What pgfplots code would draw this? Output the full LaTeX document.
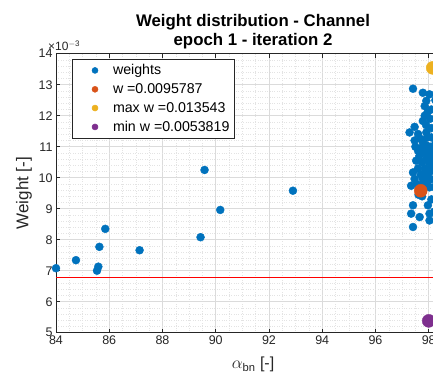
\documentclass[border=0pt]{standalone}
\usepackage{fontspec}
\setmainfont{Liberation Sans}
\usepackage{pgfplots}
\pgfplotsset{compat=1.18}
\definecolor{mblue}{HTML}{0072BD}
\definecolor{morange}{HTML}{D95319}
\definecolor{myellow}{HTML}{EDB120}
\definecolor{mpurple}{HTML}{7E2F8E}
\definecolor{mred}{RGB}{255,0,0}
\definecolor{axgray}{HTML}{262626}
\begin{document}
\begin{tikzpicture}
\begin{axis}[
  name=ax,
  at={(0pt,0pt)}, anchor=south west,
  width=394pt, height=279pt, scale only axis,
  xmin=84, xmax=98.8, ymin=5, ymax=14,
  xtick={84,86,...,98}, ytick={5,6,...,14},
  minor x tick num=3, minor y tick num=4,
  grid=both,
  major grid style={color=black!14, line width=0.5pt},
  minor grid style={color=black!11, dotted, line width=0.4pt},
  tick align=inside, major tick length=4pt, minor tick length=0pt,
  tick style={color=axgray, line width=0.5pt},
  axis line style={color=axgray, line width=0.5pt},
  xticklabel style={font=\fontsize{12.5}{14}\selectfont, color=axgray},
  yticklabel style={font=\fontsize{12.5}{14}\selectfont, color=axgray},
  /pgf/number format/assume math mode=true,
  clip marker paths=false,
  title={Weight distribution - Channel\\epoch 1 - iteration 2},
  title style={font=\bfseries\fontsize{16.8}{18.5}\selectfont, align=center, at={(0.5,1)}, anchor=south, yshift=-4.5pt},
  xlabel={$\alpha$\textsubscript{bn} [-]},
  xlabel style={font=\fontsize{16}{18}\selectfont, color=axgray, at={(rel axis cs:0.5,0)}, anchor=center, yshift=-32pt},
  legend style={at={(axis description cs:0.040,0.980)}, anchor=north west, draw=axgray, fill=white, font=\fontsize{14.2}{16}\selectfont, row sep=3.3pt, inner xsep=3pt, inner ysep=3pt, line width=0.5pt},
  legend cell align=left,
]
\addplot[color=mred, line width=1.3pt, forget plot] coordinates {(84,6.7715) (98.8,6.7715)};
\addplot[only marks, mark=*, mark size=4pt, color=mblue, mark options={fill=mblue, draw=mblue},
  legend image code/.code={\path[draw=none,fill=none] (0pt,-1pt) rectangle (36pt,1pt); \fill[mblue] (20pt,0) circle (3pt);}] coordinates {
(84.00,7.08) (84.75,7.34) (85.54,7.00) (85.59,7.13) (85.63,7.77) (85.85,8.35)
(87.14,7.66) (89.43,8.08) (89.58,10.25) (90.17,8.96) (92.90,9.58)
(97.41,12.87) (97.78,12.74) (98.03,12.69) (97.91,12.48) (97.85,12.31)
(97.85,12.00) (97.78,11.83) (97.47,11.64) (97.28,11.46) (97.60,11.41)
(97.91,11.46) (97.47,11.20) (97.78,11.13) (98.10,11.30)
(97.60,10.87) (97.97,10.92) (97.53,10.55) (97.91,10.60) (98.10,10.39)
(97.41,10.17) (97.47,9.96) (97.78,9.96) (97.97,9.90) (97.34,9.74)
(98.03,9.69) (97.41,9.11) (97.97,9.11) (97.34,8.84) (98.03,8.84)
(97.66,8.73) (98.03,8.62) (97.41,8.41)
(97.50,11.00) (97.70,10.95) (97.85,10.80) (98.00,10.75) (98.10,10.70)
(97.65,10.70) (97.90,11.05) (98.05,11.00) (97.75,10.50) (98.00,10.50)
(97.60,10.30) (97.85,10.30) (98.05,10.20) (97.70,10.10) (97.95,10.05)
(98.10,9.95) (97.55,9.80) (97.80,9.80) (97.62,9.45) (97.75,9.40)
(98.10,9.30) (98.10,11.60) (97.90,11.70) (98.05,11.90) (98.10,12.20)
(97.95,12.10) (98.10,10.85) (97.70,11.25) (97.95,11.30) (97.85,10.15)
(98.20,10.60) (98.25,11.10) (98.20,9.70) (98.25,12.50) (98.20,8.90)
};
\addlegendentry{weights}
\addplot[only marks, mark=*, mark size=6.5pt, color=morange, mark options={fill=morange, draw=morange},
  legend image code/.code={\path[draw=none,fill=none] (0pt,-1pt) rectangle (36pt,1pt); \fill[morange] (20pt,0) circle (3pt);}] coordinates {(97.70,9.5787)};
\addlegendentry{w =0.0095787}
\addplot[only marks, mark=*, mark size=6.5pt, color=myellow, mark options={fill=myellow, draw=myellow},
  legend image code/.code={\path[draw=none,fill=none] (0pt,-1pt) rectangle (36pt,1pt); \fill[myellow] (20pt,0) circle (3pt);}] coordinates {(98.15,13.543)};
\addlegendentry{max w =0.013543}
\addplot[only marks, mark=*, mark size=6.5pt, color=mpurple, mark options={fill=mpurple, draw=mpurple},
  legend image code/.code={\path[draw=none,fill=none] (0pt,-1pt) rectangle (36pt,1pt); \fill[mpurple] (20pt,0) circle (3pt);}] coordinates {(98.00,5.3819)};
\addlegendentry{min w =0.0053819}
\end{axis}
\node[anchor=south west, font=\fontsize{12}{14}\selectfont, color=axgray, inner sep=0pt] at ([xshift=-8pt, yshift=3pt]ax.north west) {×10\textsuperscript{\(-\)3}};
\node[rotate=90, font=\fontsize{17}{19}\selectfont, color=axgray] at ([xshift=-32pt]ax.west) {Weight [-]};
\pgfresetboundingbox
\path[use as bounding box] (-56pt,-47.3pt) rectangle (377pt,332.7pt);
\end{tikzpicture}
\end{document}
